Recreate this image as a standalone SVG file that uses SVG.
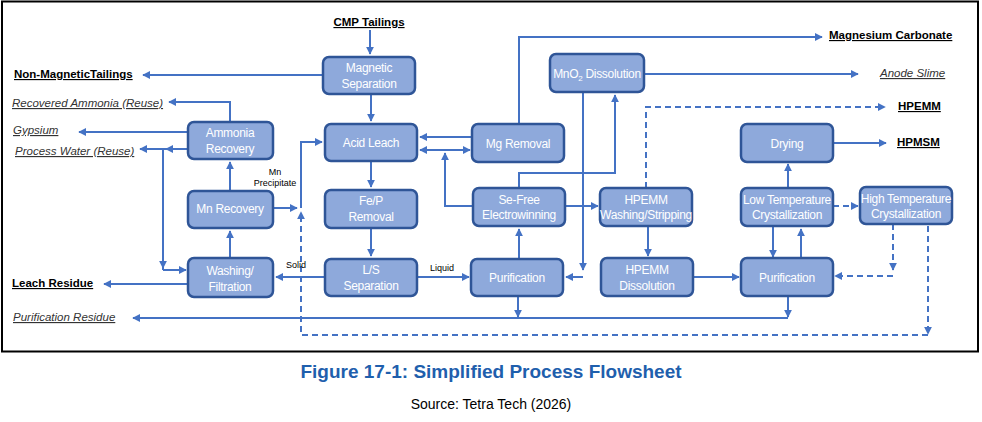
<svg xmlns="http://www.w3.org/2000/svg" width="982" height="422" viewBox="0 0 982 422">
<defs>
<marker id="a" viewBox="0 0 10 10" refX="9" refY="5" markerWidth="4" markerHeight="4" orient="auto-start-reverse"><path d="M0,0 L10,5 L0,10 z" fill="#4472C4"/></marker>
<style>
.n rect{fill:#8EA9DB;stroke:#2F5597;stroke-width:2.5}
.n text{fill:#fff;font-family:"Liberation Sans",Arial,sans-serif;font-size:12px;letter-spacing:-0.3px;text-anchor:middle}
.c path{fill:none;stroke:#4472C4;stroke-width:2;marker-end:url(#a)}
.c .d{stroke-dasharray:6,4}
.c .p{marker-end:none}
.l{font-family:"Liberation Sans",Arial,sans-serif;font-size:11.5px;fill:#000;text-decoration:underline}
.b{font-weight:bold}
.i{font-style:italic;fill:#333}
.s{font-family:"Liberation Sans",Arial,sans-serif;font-size:9px;fill:#000}
</style>
</defs>
<rect x="0" y="0" width="982" height="422" fill="#fff"/>
<rect x="2" y="1.5" width="976" height="350" fill="none" stroke="#000" stroke-width="2"/>
<g class="c">
<path d="M370,30 V54"/>
<path d="M323,75 H143"/>
<path d="M371,94 V121"/>
<path d="M371,161 V187"/>
<path d="M371,228 V256"/>
<path d="M230,122 V102 H169"/>
<path d="M188,132 H79"/>
<path d="M188,149 H140"/>
<path d="M188,149 H166"/>
<path class="p" d="M163,149 V270"/>
<path d="M163,150 V268"/>
<path d="M163,270 H186"/>
<path d="M230,191 V162"/>
<path d="M230,258 V231"/>
<path d="M273,208 H297"/>
<path d="M301,208 V142 H322"/>
<path class="d" d="M928,226 V334"/>
<path class="d" d="M928,335 H301 V212"/>
<path d="M325,277 H276"/>
<path d="M188,284 H104"/>
<path d="M417,277 H469"/>
<path d="M472,137 H420"/>
<path style="marker-start:url(#a)" d="M420,150 H470"/>
<path d="M473,206 H445 V153"/>
<path d="M519,124 V37 H822"/>
<path d="M644,74 H858"/>
<path d="M583,92 V270"/>
<path d="M583,277 H566"/>
<path d="M519,188 V173 H615 V95"/>
<path d="M565,206 H598"/>
<path d="M519,259 V229"/>
<path class="d" d="M646,188 V107 H885"/>
<path d="M648,226 V256"/>
<path d="M693,277 H739"/>
<path d="M773,226 V257"/>
<path d="M801,258 V229"/>
<path d="M788,188 V164"/>
<path d="M833,143 H886"/>
<path class="d" d="M833,206 H858"/>
<path class="d" d="M893,224 V270"/>
<path class="d" d="M893,276 H835"/>
<path d="M788,318 H133"/>
<path d="M518,296 V317"/>
<path d="M788,296 V317"/>
</g>
<g id="mag" class="n"><rect x="323" y="57" width="92" height="37" rx="6"/><text x="369" y="72">Magnetic</text><text x="369" y="88">Separation</text></g>
<g id="acid" class="n"><rect x="325" y="124" width="92" height="37" rx="6"/><text x="371" y="147">Acid Leach</text></g>
<g id="fep" class="n"><rect x="325" y="190" width="92" height="38" rx="6"/><text x="371" y="205">Fe/P</text><text x="371" y="221">Removal</text></g>
<g id="ls" class="n"><rect x="325" y="259" width="92" height="37" rx="6"/><text x="371" y="274">L/S</text><text x="371" y="290">Separation</text></g>
<g id="amm" class="n"><rect x="188" y="122" width="85" height="37" rx="6"/><text x="230" y="137">Ammonia</text><text x="230" y="153">Recovery</text></g>
<g id="mnr" class="n"><rect x="188" y="191" width="85" height="37" rx="6"/><text x="230" y="213">Mn Recovery</text></g>
<g id="wash" class="n"><rect x="188" y="258" width="85" height="39" rx="6"/><text x="230" y="275">Washing/</text><text x="230" y="291">Filtration</text></g>
<g id="mgr" class="n"><rect x="472" y="124" width="92" height="38" rx="6"/><text x="518" y="148">Mg Removal</text></g>
<g id="sefree" class="n"><rect x="473" y="188" width="92" height="38" rx="6"/><text x="519" y="204">Se-Free</text><text x="519" y="219">Electrowinning</text></g>
<g id="pur1" class="n"><rect x="471" y="259" width="92" height="37" rx="6"/><text x="517" y="282">Purification</text></g>
<g id="mno2" class="n"><rect x="550" y="54" width="94" height="38" rx="6"/><text x="597" y="78">MnO<tspan font-size="8" dy="3">2</tspan><tspan dy="-3"> Dissolution</tspan></text></g>
<g id="hpws" class="n"><rect x="600" y="188" width="92" height="38" rx="6"/><text x="646" y="204">HPEMM</text><text x="646" y="219" letter-spacing="-0.6">Washing/Stripping</text></g>
<g id="hpd" class="n"><rect x="601" y="258" width="92" height="38" rx="6"/><text x="647" y="274">HPEMM</text><text x="647" y="290">Dissolution</text></g>
<g id="dry" class="n"><rect x="741" y="124" width="92" height="38" rx="6"/><text x="787" y="148">Drying</text></g>
<g id="lowt" class="n"><rect x="741" y="188" width="92" height="38" rx="6"/><text x="787" y="204" letter-spacing="-0.6">Low Temperature</text><text x="787" y="219">Crystallization</text></g>
<g id="hight" class="n"><rect x="860" y="187" width="92" height="37" rx="6"/><text x="906" y="203" letter-spacing="-0.6">High Temperature</text><text x="906" y="218">Crystallization</text></g>
<g id="pur2" class="n"><rect x="741" y="258" width="92" height="38" rx="6"/><text x="787" y="282">Purification</text></g>
<g id="labels">
<text class="l b" x="369" y="26" text-anchor="middle">CMP Tailings</text>
<text class="l b" x="14" y="78">Non-MagneticTailings</text>
<text class="l i" x="12" y="107">Recovered Ammonia (Reuse)</text>
<text class="l i" x="13" y="134">Gypsium</text>
<text class="l i" x="15" y="155">Process Water (Reuse)</text>
<text class="l b" x="12" y="287">Leach Residue</text>
<text class="l i" x="13" y="321">Purification Residue</text>
<text class="l b" x="829" y="39">Magnesium Carbonate</text>
<text class="l i" x="880" y="77">Anode Slime</text>
<text class="l b" x="898" y="110">HPEMM</text>
<text class="l b" x="897" y="146">HPMSM</text>
<text class="s" x="275" y="175" text-anchor="middle">Mn</text>
<text class="s" x="275" y="186" text-anchor="middle">Precipitate</text>
<text class="s" x="286" y="268">Solid</text>
<text class="s" x="430" y="271">Liquid</text>
</g>
<text x="491" y="378" text-anchor="middle" font-family="Liberation Sans,Arial,sans-serif" font-size="19" font-weight="bold" fill="#1F5FAD">Figure 17-1: Simplified Process Flowsheet</text>
<text x="491" y="409" text-anchor="middle" font-family="Liberation Sans,Arial,sans-serif" font-size="14" fill="#000">Source: Tetra Tech (2026)</text>
</svg>
